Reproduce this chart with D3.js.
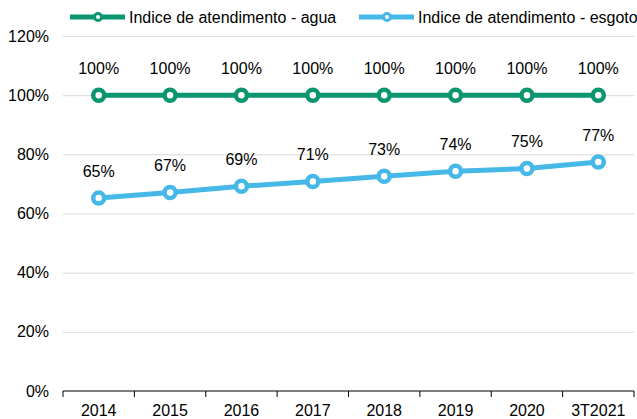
<!DOCTYPE html>
<html lang="pt">
<head>
<meta charset="UTF-8">
<title>Indice de atendimento</title>
<style>
  body { margin: 0; background: #fff; }
  svg text { font-family: "Liberation Sans", Arial, sans-serif; fill: #000; }
  .grid line { stroke: #d9d9d9; stroke-width: 1; }
  .grid path { display: none; }
  .axis path, .axis line { stroke: #000; }
</style>
</head>
<body>
<div id="chart"></div>
<script src="https://d3js.org/d3.v7.min.js"></script>
<script>
// categories and series
var years = ["2014", "2015", "2016", "2017", "2018", "2019", "2020", "3T2021"];
var agua = [100, 100, 100, 100, 100, 100, 100, 100];
var esgoto = [65.2, 67.1, 69.2, 70.8, 72.6, 74.3, 75.2, 77.4];
var yTicks = [0, 20, 40, 60, 80, 100, 120];

var w = 637, h = 419;
var margin = {top: 36, right: 3, bottom: 28, left: 63};

var svg = d3.select("#chart").append("svg")
    .attr("width", w)
    .attr("height", h);

var x = d3.scaleBand()
    .domain(years)
    .range([margin.left, w - margin.right]);

var y = d3.scaleLinear()
    .domain([0, 120])
    .range([h - margin.bottom, margin.top]);

// gridlines
svg.append("g")
    .attr("class", "grid")
    .attr("transform", "translate(" + margin.left + ",0)")
    .call(d3.axisLeft(y).tickValues(yTicks.slice(1)).tickSize(-(w - margin.right - margin.left)).tickFormat(""));

// y labels
svg.append("g")
    .selectAll("text")
    .data(yTicks).enter()
    .append("text")
    .attr("x", 49)
    .attr("y", function(d) { return y(d); })
    .attr("dy", "0.35em")
    .attr("text-anchor", "end")
    .style("font-size", "16px")
    .text(function(d) { return d + "%"; });

// x axis
var xAxis = svg.append("g")
    .attr("class", "axis")
    .attr("transform", "translate(0," + y(0) + ")");
xAxis.append("line")
    .attr("x1", margin.left).attr("x2", w - margin.right)
    .attr("y1", 0).attr("y2", 0)
    .attr("stroke", "#000");
var edges = years.map(function(d) { return x(d); }).concat([x(years[years.length - 1]) + x.bandwidth()]);
xAxis.selectAll(".tk")
    .data(edges).enter()
    .append("line")
    .attr("x1", function(d) { return d; }).attr("x2", function(d) { return d; })
    .attr("y1", 0).attr("y2", 6)
    .attr("stroke", "#000");
xAxis.selectAll("text")
    .data(years).enter()
    .append("text")
    .attr("x", function(d) { return x(d) + x.bandwidth() / 2; })
    .attr("y", 24.5)
    .attr("text-anchor", "middle")
    .style("font-size", "16px")
    .text(function(d) { return d; });

var series = [
  {name: "Indice de atendimento - agua", values: agua, color: "#0b9670"},
  {name: "Indice de atendimento - esgoto", values: esgoto, color: "#45b8e8"}
];

var line = d3.line()
    .x(function(d, i) { return x(years[i]) + x.bandwidth() / 2; })
    .y(function(d) { return y(d); });

series.forEach(function(s) {
  var g = svg.append("g");
  g.append("path")
      .datum(s.values)
      .attr("fill", "none")
      .attr("stroke", s.color)
      .attr("stroke-width", 5)
      .attr("d", line);
  g.selectAll("circle")
      .data(s.values).enter()
      .append("circle")
      .attr("cx", function(d, i) { return x(years[i]) + x.bandwidth() / 2; })
      .attr("cy", function(d) { return y(d); })
      .attr("r", 5.5)
      .attr("fill", "#fff")
      .attr("stroke", s.color)
      .attr("stroke-width", 4.5);
  g.selectAll("text")
      .data(s.values).enter()
      .append("text")
      .attr("x", function(d, i) { return x(years[i]) + x.bandwidth() / 2; })
      .attr("y", function(d) { return y(d) - 21.5; })
      .attr("text-anchor", "middle")
      .style("font-size", "16px")
      .text(function(d) { return Math.round(d) + "%"; });
});

// legend
var legendX = [70, 359];
series.forEach(function(s, i) {
  var lg = svg.append("g").attr("transform", "translate(" + legendX[i] + ",17)");
  lg.append("line")
      .attr("x1", 0).attr("x2", 55)
      .attr("stroke", s.color).attr("stroke-width", 5);
  lg.append("circle")
      .attr("cx", 28).attr("r", 3.5)
      .attr("fill", "#fff").attr("stroke", s.color).attr("stroke-width", 3);
  lg.append("text")
      .attr("x", 59).attr("dy", "0.35em")
      .style("font-size", "16px")
      .text(s.name);
});
</script>
</body>
</html>
